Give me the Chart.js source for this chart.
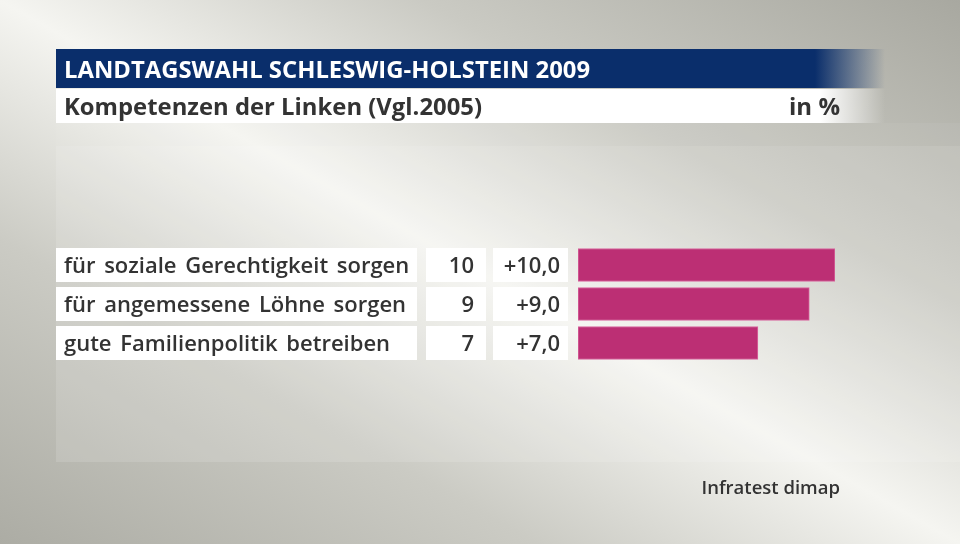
<!DOCTYPE html>
<html>
<head>
<meta charset="utf-8">
<script src="https://cdn.jsdelivr.net/npm/chart.js@4"></script>
<style>
  html, body { margin: 0; padding: 0; background: #d8d8d2; }
  #wrap { width: 960px; height: 544px; }
</style>
</head>
<body>
<div id="wrap"><canvas id="grafik" width="960" height="544"></canvas></div>
<script>
// Kompetenzen der Linken, Landtagswahl Schleswig-Holstein 2009
const titel = 'LANDTAGSWAHL SCHLESWIG-HOLSTEIN 2009';
const untertitel = 'Kompetenzen der Linken (Vgl.2005)';
const einheit = 'in %';
const quelle = 'Infratest dimap';

const kategorien = ['für soziale Gerechtigkeit sorgen', 'für angemessene Löhne sorgen', 'gute Familienpolitik betreiben'];
const werte = [10, 9, 7];
const veraenderung = [10.0, 9.0, 7.0];

const SCHRIFT = '"Open Sans", "Noto Sans", sans-serif';
const TEXT = '#333333';

function formatDiff(v) {
  return (v > 0 ? '+' : '') + v.toFixed(1).replace('.', ',');
}

// Hintergrund, Kopfzeilen und Beschriftungskästen
const rahmen = {
  id: 'rahmen',
  beforeDraw(chart) {
    const ctx = chart.ctx;
    const W = chart.width, H = chart.height;
    ctx.save();

    // diagonaler Verlauf: hell auf der Diagonale oben links -> unten rechts
    const bg = ctx.createLinearGradient(247, 684, 713, -140);
    bg.addColorStop(0, '#acaca4');
    bg.addColorStop(0.28, '#cbcbc4');
    bg.addColorStop(0.5, '#f5f5f1');
    bg.addColorStop(0.72, '#cacac3');
    bg.addColorStop(1, '#a8a8a0');
    ctx.fillStyle = bg;
    ctx.fillRect(0, 0, W, H);

    // heller Bereich hinter dem Diagramm
    ctx.fillStyle = 'rgba(255,255,255,0.13)';
    ctx.fillRect(56, 146, W - 56, 316);
    ctx.fillStyle = 'rgba(255,255,255,0.05)';
    ctx.fillRect(56, 123, W - 56, 23);

    // Titelbalken
    const tb = ctx.createLinearGradient(815, 0, 885, 0);
    tb.addColorStop(0, 'rgba(10,46,107,1)');
    tb.addColorStop(1, 'rgba(10,46,107,0)');
    ctx.fillStyle = tb;
    ctx.fillRect(56, 49, 830, 39);

    const wb = ctx.createLinearGradient(820, 0, 885, 0);
    wb.addColorStop(0, 'rgba(255,255,255,1)');
    wb.addColorStop(1, 'rgba(255,255,255,0)');
    ctx.fillStyle = wb;
    ctx.fillRect(56, 89, 830, 34);

    ctx.textBaseline = 'alphabetic';
    ctx.fillStyle = '#ffffff';
    ctx.font = '700 24px ' + SCHRIFT;
    ctx.textAlign = 'left';
    ctx.fillText(titel, 64, 78, 526);

    ctx.fillStyle = TEXT;
    ctx.font = '700 24px ' + SCHRIFT;
    ctx.fillText(untertitel, 64, 115, 418);
    ctx.textAlign = 'right';
    ctx.fillText(einheit, 840, 115);

    // Zeilen
    const y = chart.scales.y;
    ctx.wordSpacing = '3px';
    kategorien.forEach((k, i) => {
      const mitte = y.getPixelForValue(i);
      const oben = mitte - 17;
      ctx.fillStyle = '#ffffff';
      ctx.fillRect(56, oben, 361, 34);
      ctx.fillRect(426, oben, 60, 34);
      ctx.fillRect(493, oben, 75, 34);

      ctx.fillStyle = TEXT;
      ctx.font = '600 22px ' + SCHRIFT;
      ctx.textAlign = 'left';
      ctx.fillText(k, 64, mitte + 8, 346);
      ctx.textAlign = 'right';
      ctx.fillText(String(werte[i]), 474, mitte + 8);
      ctx.fillText(formatDiff(veraenderung[i]), 560, mitte + 8);
    });
    ctx.wordSpacing = '0px';

    ctx.font = '600 18.5px ' + SCHRIFT;
    ctx.textAlign = 'right';
    ctx.fillText(quelle, 840, 494);

    ctx.restore();
  }
};

new Chart(document.getElementById('grafik'), {
  type: 'bar',
  data: {
    labels: kategorien,
    datasets: [{
      data: werte,
      backgroundColor: '#bc2f74',
      borderColor: '#d9679f',
      borderWidth: 1,
      borderSkipped: false,
      barThickness: 33,
    }],
  },
  options: {
    indexAxis: 'y',
    responsive: false,
    animation: false,
    layout: { padding: { left: 578, right: 125, top: 245.5, bottom: 181.5 } },
    scales: {
      x: { display: false, min: 0, max: 10 },
      y: { display: false },
    },
    plugins: {
      legend: { display: false },
      tooltip: { enabled: false },
    },
  },
  plugins: [rahmen],
});
</script>
</body>
</html>
